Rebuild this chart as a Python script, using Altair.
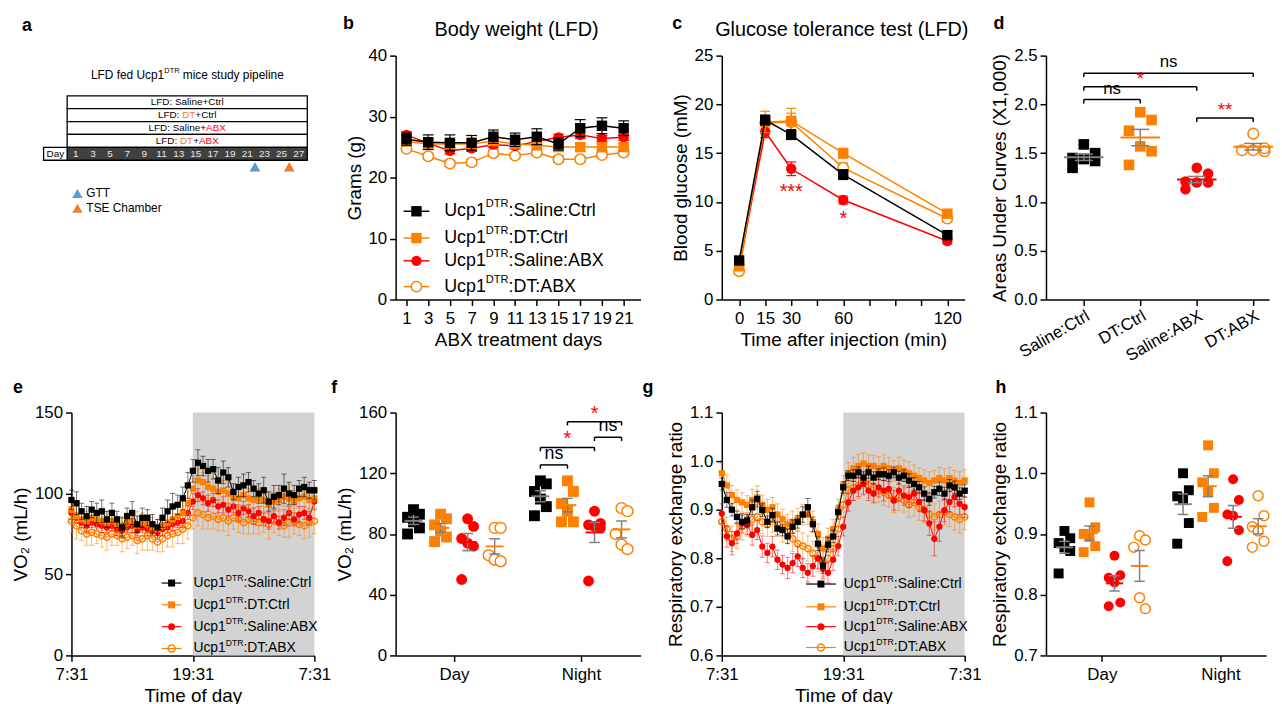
import altair as alt
import pandas as pd

FONT = "Liberation Sans"
BLACK = "#000000"
ORANGE = "#FF8000"
RED = "#FF0000"
GRAY = "#808080"
SHADE = "#D3D3D3"
A_ORANGE = "#ED7D31"
A_BLUE = "#5B9BD5"

# ---------------- data ----------------
group_names = ["Saline:Ctrl", "DT:Ctrl", "Saline:ABX", "DT:ABX"]

# panel a (study pipeline)
pipeline_days = [1, 3, 5, 7, 9, 11, 13, 15, 17, 19, 21, 23, 25, 27]
pipeline_rows = [
    [("LFD: Saline+Ctrl", "k")],
    [("LFD: ", "k"), ("DT", "o"), ("+Ctrl", "k")],
    [("LFD: Saline+", "k"), ("ABX", "r")],
    [("LFD: ", "k"), ("DT", "o"), ("+", "k"), ("ABX", "r")],
]
pipeline_span = [0, 28]
gtt_day = 21.9
tse_day = 25.9

# panel b (body weight)
bw_days = [1, 3, 5, 7, 9, 11, 13, 15, 17, 19, 21]
bw_saline_ctrl = [26.3, 25.8, 25.7, 25.7, 26.7, 26.2, 26.7, 25.5, 28.1, 28.5, 28.1]
bw_dt_ctrl = [25.9, 25.5, 25.5, 25.5, 26.0, 25.5, 25.3, 25.0, 25.0, 25.0, 25.0]
bw_saline_abx = [27.0, 25.6, 24.4, 24.8, 25.4, 25.2, 25.9, 26.6, 27.0, 26.4, 26.6]
bw_dt_abx = [24.7, 23.5, 22.3, 22.5, 24.0, 23.6, 24.1, 23.0, 23.0, 23.7, 24.1]
bw_sem_saline_ctrl = [1.0, 1.2, 1.3, 1.2, 1.1, 1.1, 1.3, 1.0, 1.4, 1.3, 1.2]
bw_sem_dt_ctrl = [0.6, 0.8, 0.7, 0.7, 0.7, 0.6, 0.7, 0.6, 0.6, 0.6, 0.6]
bw_sem_saline_abx = [0.5, 0.6, 0.5, 0.5, 0.5, 0.5, 0.6, 0.5, 0.6, 0.5, 0.5]
bw_sem_dt_abx = [0.4, 0.5, 0.5, 0.5, 0.5, 0.4, 0.5, 0.5, 0.5, 0.4, 0.4]

# panel c (GTT)
gtt_min = [0, 15, 30, 60, 120]
gtt_saline_ctrl = [4.0, 18.4, 16.9, 12.8, 6.6]
gtt_dt_ctrl = [3.4, 18.2, 18.3, 15.0, 8.8]
gtt_saline_abx = [3.5, 17.2, 13.4, 10.2, 6.0]
gtt_dt_abx = [2.9, 18.1, 18.2, 13.5, 8.3]
gtt_sem_saline_ctrl = [0.3, 0.5, 0.5, 0.5, 0.4]
gtt_sem_dt_ctrl = [0.3, 1.1, 1.3, 0.5, 0.4]
gtt_sem_saline_abx = [0.3, 0.6, 0.7, 0.4, 0.3]
gtt_sem_dt_abx = [0.2, 0.6, 0.9, 0.5, 0.4]
gtt_marks = [(30, 11.05, "***"), (60, 8.2, "*")]

# panel d (AUC)
auc_saline_ctrl = [1.59, 1.50, 1.45, 1.44, 1.42, 1.35]
auc_dt_ctrl = [1.92, 1.84, 1.73, 1.57, 1.52, 1.38]
auc_saline_abx = [1.35, 1.29, 1.21, 1.20, 1.20, 1.13]
auc_dt_abx = [1.70, 1.55, 1.53, 1.53, 1.52]
auc_brackets = [(0, 1, 2.05, "ns", "k"), (0, 2, 2.18, "*", "r"),
                (0, 3, 2.32, "ns", "k"), (2, 3, 1.86, "**", "r")]

# panels e / g (time course, every 30 min from 7:31)
hours = [i * 0.5 for i in range(49)]
night_span = [12, 24]
vo2_saline_ctrl = [96, 94, 89, 86, 90, 88, 89, 84, 88, 84, 79, 86, 88, 81, 85, 85, 81, 79, 85, 89,
                   92, 93, 97, 105, 114, 119, 117, 114, 115, 108, 113, 110, 101, 104, 105, 107, 103, 100, 102, 95,
                   98, 99, 103, 100, 99, 103, 104, 102, 102]
vo2_dt_ctrl = [90, 86, 84, 83, 85, 84, 83, 82, 83, 81, 80, 82, 83, 80, 82, 81, 79, 78, 80, 82,
               84, 86, 88, 94, 103, 108, 107, 104, 103, 101, 102, 100, 98, 97, 99, 97, 96, 97, 96, 93,
               95, 96, 98, 97, 95, 97, 98, 96, 97]
vo2_saline_abx = [88, 85, 82, 80, 82, 81, 80, 79, 80, 78, 77, 79, 80, 77, 79, 78, 77, 76, 78, 79,
                  81, 82, 83, 88, 95, 99, 97, 94, 96, 92, 93, 90, 92, 88, 91, 89, 86, 88, 84, 83,
                  86, 82, 85, 88, 84, 87, 88, 85, 95]
vo2_dt_abx = [83, 80, 77, 75, 76, 75, 74, 73, 75, 74, 72, 73, 74, 71, 72, 74, 72, 70, 72, 74,
              75, 76, 78, 80, 85, 88, 87, 85, 86, 84, 85, 83, 85, 84, 82, 84, 83, 82, 84, 81,
              83, 82, 80, 82, 83, 81, 80, 82, 83]
vo2_sem_saline_ctrl = [6, 7, 5, 6, 5, 6, 7, 5, 6, 5, 6, 5, 7, 5, 6, 5, 6, 5, 6, 7,
                       8, 6, 7, 8, 7, 8, 6, 7, 6, 8, 7, 6, 5, 6, 7, 6, 5, 6, 8, 6,
                       7, 6, 9, 7, 6, 5, 6, 5, 6]
vo2_sem_dt_ctrl = [7, 6, 5, 6, 6, 5, 6, 7, 6, 5, 6, 6, 5, 9, 6, 5, 6, 6, 5, 6,
                   6, 7, 8, 7, 6, 7, 6, 7, 6, 7, 6, 7, 8, 6, 7, 6, 7, 6, 7, 8,
                   6, 7, 6, 9, 7, 6, 7, 6, 7]
vo2_sem_saline_abx = [4, 3, 3, 4, 3, 3, 4, 3, 3, 4, 3, 3, 4, 3, 3, 4, 3, 3, 4, 3,
                      4, 3, 4, 4, 5, 4, 4, 5, 4, 4, 5, 4, 4, 5, 4, 4, 5, 4, 4, 5,
                      4, 4, 5, 4, 4, 5, 4, 4, 5]
vo2_sem_dt_abx = [7, 8, 6, 7, 8, 6, 7, 8, 7, 6, 8, 7, 6, 8, 7, 9, 7, 6, 8, 7,
                  8, 7, 9, 8, 7, 8, 9, 7, 8, 7, 8, 9, 7, 8, 7, 9, 8, 7, 8, 9,
                  7, 8, 7, 9, 8, 7, 8, 9, 8]

rer_saline_ctrl = [0.953, 0.920, 0.900, 0.885, 0.875, 0.878, 0.905, 0.922, 0.899, 0.875,
                   0.889, 0.861, 0.858, 0.845, 0.865, 0.875, 0.890, 0.905, 0.870, 0.830,
                   0.785, 0.828, 0.845, 0.895, 0.946, 0.970, 0.970, 0.977, 0.966, 0.977,
                   0.966, 0.973, 0.973, 0.970, 0.977, 0.966, 0.970, 0.960, 0.953, 0.946,
                   0.933, 0.922, 0.936, 0.943, 0.933, 0.950, 0.946, 0.933, 0.939]
rer_dt_ctrl = [0.975, 0.950, 0.930, 0.920, 0.915, 0.910, 0.920, 0.925, 0.910, 0.900,
               0.905, 0.890, 0.880, 0.870, 0.875, 0.880, 0.890, 0.890, 0.875, 0.850,
               0.820, 0.840, 0.860, 0.900, 0.950, 0.975, 0.985, 0.990, 0.995, 0.990,
               0.990, 0.985, 0.990, 0.985, 0.980, 0.985, 0.980, 0.975, 0.970, 0.965,
               0.960, 0.955, 0.960, 0.965, 0.960, 0.965, 0.960, 0.955, 0.960]
rer_saline_abx = [0.892, 0.845, 0.831, 0.851, 0.872, 0.868, 0.848, 0.858, 0.824, 0.811,
                  0.824, 0.797, 0.787, 0.780, 0.790, 0.804, 0.780, 0.770, 0.784, 0.800,
                  0.778, 0.770, 0.797, 0.825, 0.865, 0.915, 0.939, 0.946, 0.953, 0.939,
                  0.933, 0.946, 0.939, 0.943, 0.919, 0.939, 0.929, 0.926, 0.933, 0.916,
                  0.899, 0.872, 0.840, 0.865, 0.899, 0.916, 0.926, 0.912, 0.905]
rer_dt_abx = [0.875, 0.860, 0.840, 0.845, 0.865, 0.870, 0.880, 0.885, 0.875, 0.870,
              0.880, 0.870, 0.860, 0.855, 0.840, 0.830, 0.825, 0.820, 0.810, 0.800,
              0.790, 0.800, 0.820, 0.860, 0.910, 0.940, 0.945, 0.950, 0.955, 0.950,
              0.945, 0.940, 0.935, 0.930, 0.920, 0.925, 0.920, 0.910, 0.915, 0.905,
              0.900, 0.890, 0.885, 0.890, 0.895, 0.890, 0.885, 0.880, 0.885]
rer_sem_saline_ctrl = [.012, .015, .013, .012, .014, .012, .015, .016, .013, .012,
                       .014, .013, .012, .015, .014, .013, .016, .018, .015, .014,
                       .016, .015, .013, .014, .012, .010, .012, .011, .012, .013,
                       .012, .011, .013, .012, .011, .013, .012, .014, .013, .012,
                       .014, .013, .012, .014, .013, .012, .013, .012, .013]
rer_sem_dt_ctrl = [.020, .022, .020, .021, .020, .019, .022, .024, .020, .021,
                   .020, .022, .021, .020, .022, .023, .021, .020, .022, .021,
                   .023, .022, .020, .021, .020, .022, .023, .024, .022, .023,
                   .022, .024, .023, .022, .021, .023, .022, .024, .022, .021,
                   .022, .023, .021, .022, .024, .022, .021, .023, .022]
rer_sem_saline_abx = [.020, .022, .024, .021, .020, .019, .021, .020, .022, .020,
                      .021, .020, .019, .022, .020, .021, .020, .019, .021, .022,
                      .020, .021, .022, .020, .019, .018, .020, .019, .021, .020,
                      .019, .020, .021, .019, .020, .022, .020, .021, .019, .020,
                      .022, .025, .035, .030, .024, .021, .020, .022, .021]
rer_sem_dt_abx = [.025, .024, .026, .025, .027, .024, .025, .026, .024, .025,
                  .026, .025, .027, .024, .026, .025, .027, .026, .025, .028,
                  .027, .026, .025, .027, .024, .025, .026, .027, .025, .026,
                  .027, .025, .026, .024, .026, .027, .025, .026, .028, .027,
                  .026, .025, .027, .028, .026, .025, .027, .028, .026]

# panel f (VO2 day / night)
vo2_day = {
    "Saline:Ctrl": [96, 93, 91, 88, 84, 80],
    "DT:Ctrl": [93, 90, 86, 82, 78, 75],
    "Saline:ABX": [90, 85, 77, 74, 72, 50],
    "DT:ABX": [84, 84, 66, 63, 62],
}
vo2_night = {
    "Saline:Ctrl": [115, 113, 108, 103, 98, 92],
    "DT:Ctrl": [115, 108, 100, 95, 88, 88],
    "Saline:ABX": [95, 87, 86, 85, 84, 49],
    "DT:ABX": [97, 95, 80, 73, 70],
}
vo2_brackets = [(4, 5, 125.5, "ns", "k"), (4, 6, 137, "*", "r"),
                (6, 7, 143.7, "ns", "k"), (5, 7, 154, "*", "r")]

# panel h (RER day / night)
rer_day = {
    "Saline:Ctrl": [0.905, 0.893, 0.885, 0.878, 0.872, 0.835],
    "DT:Ctrl": [0.952, 0.911, 0.900, 0.895, 0.880, 0.870],
    "Saline:ABX": [0.864, 0.832, 0.828, 0.820, 0.787, 0.781],
    "DT:ABX": [0.897, 0.890, 0.878, 0.795, 0.777],
}
rer_night = {
    "Saline:Ctrl": [1.000, 0.972, 0.962, 0.958, 0.918, 0.884],
    "DT:Ctrl": [1.046, 1.000, 0.985, 0.970, 0.943, 0.928],
    "Saline:ABX": [0.990, 0.956, 0.932, 0.930, 0.906, 0.855],
    "DT:ABX": [0.963, 0.930, 0.912, 0.905, 0.888, 0.878],
}

# ---------------- helpers ----------------
COLS = {"k": BLACK, "o": ORANGE, "r": RED}
SERIES = [
    dict(name="Saline:Ctrl", color=BLACK, shape="square", filled=True, mean=GRAY),
    dict(name="DT:Ctrl", color=ORANGE, shape="square", filled=True, mean=ORANGE),
    dict(name="Saline:ABX", color=RED, shape="circle", filled=True, mean=RED),
    dict(name="DT:ABX", color=ORANGE, shape="circle", filled=False, mean=ORANGE),
]
DRAW_ORDER = [3, 2, 1, 0]

AW = {' ': 278, '(': 333, ')': 333, '+': 584, ',': 278, '.': 278, ':': 278, '*': 389,
      'A': 667, 'B': 667, 'C': 722, 'D': 722, 'E': 667, 'F': 611, 'G': 778, 'L': 556,
      'R': 722, 'S': 667, 'T': 611, 'U': 722, 'X': 667,
      'a': 556, 'b': 556, 'c': 500, 'd': 556, 'e': 556, 'f': 278, 'g': 556, 'h': 556,
      'i': 222, 'l': 222, 'm': 833, 'n': 556, 'o': 556, 'p': 556, 'r': 333, 's': 500,
      't': 278, 'u': 556, 'y': 500}


def tw(s, fs):
    return sum(AW.get(c, 556) for c in s) * fs / 1000.0


dummy = pd.DataFrame({"k": [0]})


def ptext(x, y, text, fs, color=BLACK, align="left", baseline="middle", weight="normal", angle=0):
    return alt.Chart(dummy).mark_text(
        text=text, font=FONT, fontSize=fs, color=color, align=align,
        baseline=baseline, fontWeight=weight, angle=angle,
    ).encode(x=alt.value(x), y=alt.value(y))


def sup_text(x, y, parts, fs, anchor="left"):
    sfs = fs * 0.62
    widths = [tw(t, sfs if k == "s" else fs) for t, k, c in parts]
    total = sum(widths)
    cx = x - total / 2 if anchor == "center" else x
    out = []
    for (t, k, c), w in zip(parts, widths):
        size = sfs if k == "s" else fs
        lead = len(t) - len(t.lstrip(" "))
        off = tw(" " * lead, size)
        yy = y - fs * 0.38 if k == "s" else y
        out.append(ptext(cx + off, yy, t.strip(" "), size, c))
        cx += w
    return out


def pstyle(s, size, open_fill=None, sw=1.5):
    if s["filled"]:
        return dict(shape=s["shape"], filled=True, color=s["color"], size=size, opacity=1, strokeWidth=0)
    if open_fill:
        return dict(shape=s["shape"], filled=True, fill=open_fill, stroke=s["color"],
                    strokeWidth=sw, size=size, opacity=1)
    return dict(shape=s["shape"], filled=False, color=s["color"], strokeWidth=sw, size=size, opacity=1)


def legend(rows_y, x0, x1, tx, fs, msize, lw, open_fill):
    out = []
    for s, ry in zip(SERIES, rows_y):
        out.append(alt.Chart(dummy).mark_rule(color=s["color"], strokeWidth=lw).encode(
            x=alt.value(x0), x2=alt.value(x1), y=alt.value(ry)))
        out.append(alt.Chart(dummy).mark_point(**pstyle(s, msize, open_fill)).encode(
            x=alt.value((x0 + x1) / 2), y=alt.value(ry)))
        out += sup_text(tx, ry, [("Ucp1", "n", BLACK), ("DTR", "s", BLACK), (":" + s["name"], "n", BLACK)], fs)
    return out


def scl(domain, reverse=False):
    return alt.Scale(domain=domain, nice=False, zero=False, reverse=reverse)


def enc_factory(scale, axis, ch):
    def f(field):
        if ch == "x":
            return alt.X(field, type="quantitative", scale=scale, axis=axis)
        return alt.Y(field, type="quantitative", scale=scale, axis=axis)
    return f


def series_layers(df, xf, X, Y, s, msize, lw, half, err_w, err_op, open_fill, line_op=1.0):
    base = alt.Chart(df)
    eb = base.transform_calculate(
        lo="datum.v - datum.sem", hi="datum.v + datum.sem",
        xl=f"datum.{xf} - {half}", xr=f"datum.{xf} + {half}")
    ecol = s["color"]
    vert = eb.mark_rule(color=ecol, strokeWidth=err_w, opacity=err_op).encode(x=X(xf), y=Y("lo"), y2="hi:Q")
    capt = eb.mark_rule(color=ecol, strokeWidth=err_w, opacity=err_op).encode(x=X("xl"), x2="xr:Q", y=Y("hi"))
    capb = eb.mark_rule(color=ecol, strokeWidth=err_w, opacity=err_op).encode(x=X("xl"), x2="xr:Q", y=Y("lo"))
    line = base.mark_line(color=s["color"], strokeWidth=lw, opacity=line_op).encode(x=X(xf), y=Y("v"))
    pts = base.mark_point(**pstyle(s, msize, open_fill)).encode(x=X(xf), y=Y("v"))
    return [vert, capt, capb, line, pts]


def brackets(rows, pos, X, Y, drop, fs):
    out = []
    for a, b, yv, lab, c in rows:
        col = COLS[c]
        df = pd.DataFrame({"xa": [pos[a]], "xb": [pos[b]], "y": [yv]})
        base = alt.Chart(df).transform_calculate(yd=f"datum.y - {drop}", xm="(datum.xa + datum.xb) / 2")
        out.append(base.mark_rule(color=BLACK, strokeWidth=1.5).encode(x=X("xa"), x2="xb:Q", y=Y("y")))
        out.append(base.mark_rule(color=BLACK, strokeWidth=1.5).encode(x=X("xa"), y=Y("y"), y2="yd:Q"))
        out.append(base.mark_rule(color=BLACK, strokeWidth=1.5).encode(x=X("xb"), y=Y("y"), y2="yd:Q"))
        out.append(base.mark_text(text=lab, font=FONT, fontSize=fs if lab == "ns" else fs + 2,
                                  color=col, baseline="bottom", dy=-2 if lab == "ns" else 2).encode(
            x=X("xm"), y=Y("y")))
    return out


def dot_layers(data_by_period, pos_by_period, X, Y, msize, jit, capw, meanw, open_fill):
    out = []
    rows = []
    for per, dd in data_by_period.items():
        for gi, g in enumerate(group_names):
            for v in dd[g]:
                rows.append({"g": g, "pos": pos_by_period[per][gi], "v": v, "mcol": SERIES[gi]["mean"]})
    df = pd.DataFrame(rows)
    for i in range(4):
        s = SERIES[i]
        sub = df[df.g == s["name"]]
        out.append(alt.Chart(sub).transform_window(
            rn="row_number()", groupby=["pos"], sort=[alt.SortField("v", order="descending")]
        ).transform_calculate(xp=f"datum.pos + ((datum.rn % 3) - 1) * {jit}").mark_point(
            **pstyle(s, msize, open_fill)).encode(x=X("xp"), y=Y("v")))
    agg = alt.Chart(df).transform_aggregate(
        mean="mean(v)", sem="stderr(v)", groupby=["g", "pos", "mcol"]
    ).transform_calculate(
        lo="datum.mean - datum.sem", hi="datum.mean + datum.sem",
        cl=f"datum.pos - {capw}", cr=f"datum.pos + {capw}",
        ml=f"datum.pos - {meanw}", mr=f"datum.pos + {meanw}")
    out.append(agg.mark_rule(color=GRAY, strokeWidth=1.5).encode(x=X("pos"), y=Y("lo"), y2="hi:Q"))
    out.append(agg.mark_rule(color=GRAY, strokeWidth=1.5).encode(x=X("cl"), x2="cr:Q", y=Y("lo")))
    out.append(agg.mark_rule(color=GRAY, strokeWidth=1.5).encode(x=X("cl"), x2="cr:Q", y=Y("hi")))
    out.append(agg.mark_rule(strokeWidth=2).encode(x=X("ml"), x2="mr:Q", y=Y("mean"),
                                                  color=alt.Color("mcol:N", scale=None)))
    return out


LET = 18   # panel letter size
TITLE = 20

# ---------------- panel a ----------------
A_W, A_H = 245, 246
a_x = enc_factory(scl([0.5, 28.82]), None, "x")
a_y = enc_factory(scl([-3.62, 15.31], reverse=True), None, "y")
a_layers = []
# white anchor mark that fixes the chart's top-left extent
a_layers.append(alt.Chart(dummy).mark_rule(color="white", opacity=1, strokeWidth=1).encode(
    x=alt.value(-63.5), x2=alt.value(-62.5), y=alt.value(-44.5)))
box_df = pd.DataFrame({"r": [0, 1, 2, 3], "x0": [pipeline_span[0]] * 4, "x1": [pipeline_span[1]] * 4})
a_layers.append(alt.Chart(box_df).transform_calculate(y0="datum.r - 0.5", y1="datum.r + 0.5").mark_rect(
    fill="white", stroke=BLACK, strokeWidth=1.3).encode(x=a_x("x0"), x2="x1:Q", y=a_y("y0"), y2="y1:Q"))
day_df = pd.DataFrame({"x0": [pipeline_span[0]], "x1": [pipeline_span[1]], "y0": [3.5], "y1": [4.5]})
a_layers.append(alt.Chart(day_df).mark_rect(fill="#404040", stroke=BLACK, strokeWidth=1.3).encode(
    x=a_x("x0"), x2="x1:Q", y=a_y("y0"), y2="y1:Q"))
dbox_df = pd.DataFrame({"x0": [-2.75], "x1": [pipeline_span[0]], "y0": [3.5], "y1": [4.5]})
a_layers.append(alt.Chart(dbox_df).mark_rect(fill="white", stroke=BLACK, strokeWidth=1.3).encode(
    x=a_x("x0"), x2="x1:Q", y=a_y("y0"), y2="y1:Q"))
a_layers.append(alt.Chart(pd.DataFrame({"d": [-1.375], "r": [4]})).mark_text(
    text="Day", font=FONT, fontSize=10, color=BLACK).encode(x=a_x("d"), y=a_y("r")))
a_layers.append(alt.Chart(pd.DataFrame({"d": pipeline_days, "r": [4] * len(pipeline_days)})).mark_text(
    font=FONT, fontSize=10, color="#E8E8E8").encode(x=a_x("d"), y=a_y("r"), text=alt.Text("d:Q", format="d")))
ACOL = {"k": BLACK, "o": A_ORANGE, "r": RED}
for ri, segs in enumerate(pipeline_rows):
    total = sum(tw(t, 10) for t, c in segs)
    cx = -total / 2
    for t, c in segs:
        a_layers.append(alt.Chart(pd.DataFrame({"d": [14], "r": [ri]})).mark_text(
            text=t, font=FONT, fontSize=10, color=ACOL[c], align="left", dx=cx).encode(
            x=a_x("d"), y=a_y("r")))
        cx += tw(t, 10)
tri_df = pd.DataFrame({"d": [gtt_day, tse_day], "r": [5.0, 5.0], "c": [A_BLUE, A_ORANGE]})
a_layers.append(alt.Chart(tri_df).mark_point(shape="triangle-up", filled=True, size=120, opacity=1).encode(
    x=a_x("d"), y=a_y("r"), color=alt.Color("c:N", scale=None)))
leg_df = pd.DataFrame({"d": [1.2, 1.2], "r": [7.08, 8.23], "c": [A_BLUE, A_ORANGE], "t": ["GTT", "TSE Chamber"]})
a_layers.append(alt.Chart(leg_df).mark_point(shape="triangle-up", filled=True, size=110, opacity=1).encode(
    x=a_x("d"), y=a_y("r"), color=alt.Color("c:N", scale=None)))
a_layers.append(alt.Chart(leg_df).mark_text(font=FONT, fontSize=12, color=BLACK, align="left", dx=9).encode(
    x=a_x("d"), y=a_y("r"), text="t:N"))
a_layers += sup_text(117, 20, [("LFD fed Ucp1", "n", BLACK), ("DTR", "s", BLACK),
                               (" mice study pipeline", "n", BLACK)], 12, anchor="center")
a_layers.append(ptext(-50, -25, "a", LET, weight="bold", baseline="alphabetic"))
panel_a = alt.layer(*a_layers).properties(width=A_W, height=A_H)

# ---------------- panel b ----------------
B_W, B_H = 247, 246
b_x = enc_factory(scl([0, 22.55]), alt.Axis(values=bw_days, title="ABX treatment days", labelOverlap=False), "x")
b_y = enc_factory(scl([0, 40]), alt.Axis(values=[0, 10, 20, 30, 40], title="Grams (g)"), "y")
bw_vals = [bw_saline_ctrl, bw_dt_ctrl, bw_saline_abx, bw_dt_abx]
bw_sems = [bw_sem_saline_ctrl, bw_sem_dt_ctrl, bw_sem_saline_abx, bw_sem_dt_abx]
b_layers = []
for i in DRAW_ORDER:
    df = pd.DataFrame({"day": bw_days, "v": bw_vals[i], "sem": bw_sems[i]})
    b_layers += series_layers(df, "day", b_x, b_y, SERIES[i], 110, 1.5, 0.5, 1.2, 1.0, "white")
b_layers += legend([157, 184, 207, 233], 8, 34, 49, 18, 110, 1.5, "white")
b_layers.append(ptext(122, -26, "Body weight (LFD)", TITLE, align="center"))
b_layers.append(ptext(-53, -27, "b", LET, weight="bold", baseline="alphabetic"))
panel_b = alt.layer(*b_layers).properties(width=B_W, height=B_H)

# ---------------- panel c ----------------
C_W, C_H = 245, 246
c_x = enc_factory(scl([-10, 130]), alt.Axis(
    values=[0, 15, 30, 45, 60, 75, 90, 105, 120], title="Time after injection (min)",
    labelExpr="indexof([0, 15, 30, 60, 120], datum.value) >= 0 ? datum.label : ''"), "x")
c_y = enc_factory(scl([0, 25]), alt.Axis(values=[0, 5, 10, 15, 20, 25], title="Blood glucose (mM)"), "y")
gtt_vals = [gtt_saline_ctrl, gtt_dt_ctrl, gtt_saline_abx, gtt_dt_abx]
gtt_sems = [gtt_sem_saline_ctrl, gtt_sem_dt_ctrl, gtt_sem_saline_abx, gtt_sem_dt_abx]
c_layers = []
for i in DRAW_ORDER:
    df = pd.DataFrame({"t": gtt_min, "v": gtt_vals[i], "sem": gtt_sems[i]})
    c_layers += series_layers(df, "t", c_x, c_y, SERIES[i], 110, 1.5, 2.8, 1.2, 1.0, "white")
star_df = pd.DataFrame({"t": [m[0] for m in gtt_marks], "v": [m[1] for m in gtt_marks],
                        "s": [m[2] for m in gtt_marks]})
c_layers.append(alt.Chart(star_df).mark_text(font=FONT, fontSize=20, color=RED).encode(
    x=c_x("t"), y=c_y("v"), text="s:N"))
c_layers.append(ptext(121, -26, "Glucose tolerance test (LFD)", TITLE, align="center"))
c_layers.append(ptext(-50, -27, "c", LET, weight="bold", baseline="alphabetic"))
panel_c = alt.layer(*c_layers).properties(width=C_W, height=C_H)

# ---------------- panel d ----------------
D_W, D_H = 225, 246
d_x = enc_factory(scl([-0.67, 3.28]), alt.Axis(
    values=[0, 1, 2, 3], title=None, labelAngle=-30, labelAlign="right", labelBaseline="top",
    labelOverlap=False, labelPadding=2,
    labelExpr="['Saline:Ctrl', 'DT:Ctrl', 'Saline:ABX', 'DT:ABX'][datum.value]"), "x")
d_y = enc_factory(scl([0, 2.5]), alt.Axis(values=[0, 0.5, 1.0, 1.5, 2.0, 2.5], format=".1f",
                                           title="Areas Under Curves (X1,000)"), "y")
auc_vals = {"all": dict(zip(group_names, [auc_saline_ctrl, auc_dt_ctrl, auc_saline_abx, auc_dt_abx]))}
d_layers = dot_layers(auc_vals, {"all": [0, 1, 2, 3]}, d_x, d_y, 115, 0.2, 0.16, 0.35, None)
d_layers += brackets(auc_brackets, [0, 1, 2, 3], d_x, d_y, 0.04, 17)
d_layers.append(ptext(-53, -27, "d", LET, weight="bold", baseline="alphabetic"))
panel_d = alt.layer(*d_layers).properties(width=D_W, height=D_H)

# ---------------- panel e ----------------
E_W, E_H = 245, 245
time_axis = dict(values=[0, 12, 24], title="Time of day",
                 labelExpr="datum.value == 12 ? '19:31' : '7:31'")
e_x = enc_factory(scl([0, 24]), alt.Axis(**time_axis), "x")
e_y = enc_factory(scl([0, 150]), alt.Axis(values=[0, 50, 100, 150], title="VO₂ (mL/h)"), "y")
e_layers = [alt.Chart(pd.DataFrame({"x0": [night_span[0]], "x1": [night_span[1]], "y0": [0], "y1": [150]}))
            .mark_rect(color=SHADE).encode(x=e_x("x0"), x2="x1:Q", y=e_y("y0"), y2="y1:Q")]
vo2_vals = [vo2_saline_ctrl, vo2_dt_ctrl, vo2_saline_abx, vo2_dt_abx]
vo2_sems = [vo2_sem_saline_ctrl, vo2_sem_dt_ctrl, vo2_sem_saline_abx, vo2_sem_dt_abx]
for i in DRAW_ORDER:
    df = pd.DataFrame({"h": hours, "v": vo2_vals[i], "sem": vo2_sems[i]})
    e_layers += series_layers(df, "h", e_x, e_y, SERIES[i], 40, 1.0, 0.25, 1.0, 0.55, None)
e_layers += legend([172, 194, 216, 238], 91, 111, 123, 14, 50, 1.2, None)
e_layers.append(ptext(-59, -20, "e", LET, weight="bold", baseline="alphabetic"))
panel_e = alt.layer(*e_layers).properties(width=E_W, height=E_H)

# ---------------- panel f ----------------
F_W, F_H = 247, 245
grp_day_pos = [0.66, 1.66, 2.66, 3.66]
grp_night_pos = [5.35, 6.35, 7.35, 8.35]
period_axis = dict(values=[2.16, 6.85], title=None, labelExpr="datum.value < 4.5 ? 'Day' : 'Night'")
f_x = enc_factory(scl([0, 9.05]), alt.Axis(**period_axis), "x")
f_y = enc_factory(scl([0, 160]), alt.Axis(values=[0, 40, 80, 120, 160], title="VO₂ (mL/h)"), "y")
f_layers = dot_layers({"day": vo2_day, "night": vo2_night}, {"day": grp_day_pos, "night": grp_night_pos},
                      f_x, f_y, 120, 0.22, 0.2, 0.33, "white")
f_layers += brackets(vo2_brackets, grp_day_pos + grp_night_pos, f_x, f_y, 2.5, 18)
f_layers.append(ptext(-65, -20, "f", LET, weight="bold", baseline="alphabetic"))
panel_f = alt.layer(*f_layers).properties(width=F_W, height=F_H)

# ---------------- panel g ----------------
G_W, G_H = 245, 245
g_x = enc_factory(scl([0, 24]), alt.Axis(**time_axis), "x")
g_y = enc_factory(scl([0.6, 1.1]), alt.Axis(values=[0.6, 0.7, 0.8, 0.9, 1.0, 1.1], format=".1f",
                                             title="Respiratory exchange ratio"), "y")
g_layers = [alt.Chart(pd.DataFrame({"x0": [night_span[0]], "x1": [night_span[1]], "y0": [0.6], "y1": [1.1]}))
            .mark_rect(color=SHADE).encode(x=g_x("x0"), x2="x1:Q", y=g_y("y0"), y2="y1:Q")]
rer_vals = [rer_saline_ctrl, rer_dt_ctrl, rer_saline_abx, rer_dt_abx]
rer_sems = [rer_sem_saline_ctrl, rer_sem_dt_ctrl, rer_sem_saline_abx, rer_sem_dt_abx]
for i in DRAW_ORDER:
    df = pd.DataFrame({"h": hours, "v": rer_vals[i], "sem": rer_sems[i]})
    g_layers += series_layers(df, "h", g_x, g_y, SERIES[i], 40, 1.0, 0.25, 1.0, 0.55, None)
g_layers += legend([173, 196, 216, 237], 85, 115, 123, 14, 50, 1.2, None)
g_layers.append(ptext(-80, -20, "g", LET, weight="bold", baseline="alphabetic"))
panel_g = alt.layer(*g_layers).properties(width=G_W, height=G_H)

# ---------------- panel h ----------------
H_W, H_H = 222, 245
h_day_pos = [0.7, 1.65, 2.6, 3.55]
h_night_pos = [5.2, 6.15, 7.1, 8.05]
h_x = enc_factory(scl([0, 8.35]), alt.Axis(values=[2.12, 6.62], title=None,
                                           labelExpr="datum.value < 4.5 ? 'Day' : 'Night'"), "x")
h_y = enc_factory(scl([0.7, 1.1]), alt.Axis(values=[0.7, 0.8, 0.9, 1.0, 1.1], format=".1f",
                                             title="Respiratory exchange ratio"), "y")
h_layers = dot_layers({"day": rer_day, "night": rer_night}, {"day": h_day_pos, "night": h_night_pos},
                      h_x, h_y, 100, 0.22, 0.2, 0.33, "white")
h_layers.append(ptext(-51, -20, "h", LET, weight="bold", baseline="alphabetic"))
panel_h = alt.layer(*h_layers).properties(width=H_W, height=H_H)

chart = alt.concat(
    panel_a, panel_b, panel_c, panel_d, panel_e, panel_f, panel_g, panel_h,
    columns=4, spacing={"row": 114, "column": 82}, bounds="flush",
).properties(
    padding={"left": 0, "top": 0, "right": 0, "bottom": 0},
).configure_view(strokeWidth=0).configure_axis(
    domainColor=BLACK, domainWidth=1.5, tickColor=BLACK, tickWidth=1.5, tickSize=6,
    labelFont=FONT, labelFontSize=17, labelColor=BLACK, labelPadding=3, labelFlush=False,
    titleFont=FONT, titleFontSize=19, titleColor=BLACK, titleFontWeight="normal", grid=False,
).configure_axisX(labelPadding=5)

chart.save("out.html", embed_options={"renderer": "svg", "actions": False})
